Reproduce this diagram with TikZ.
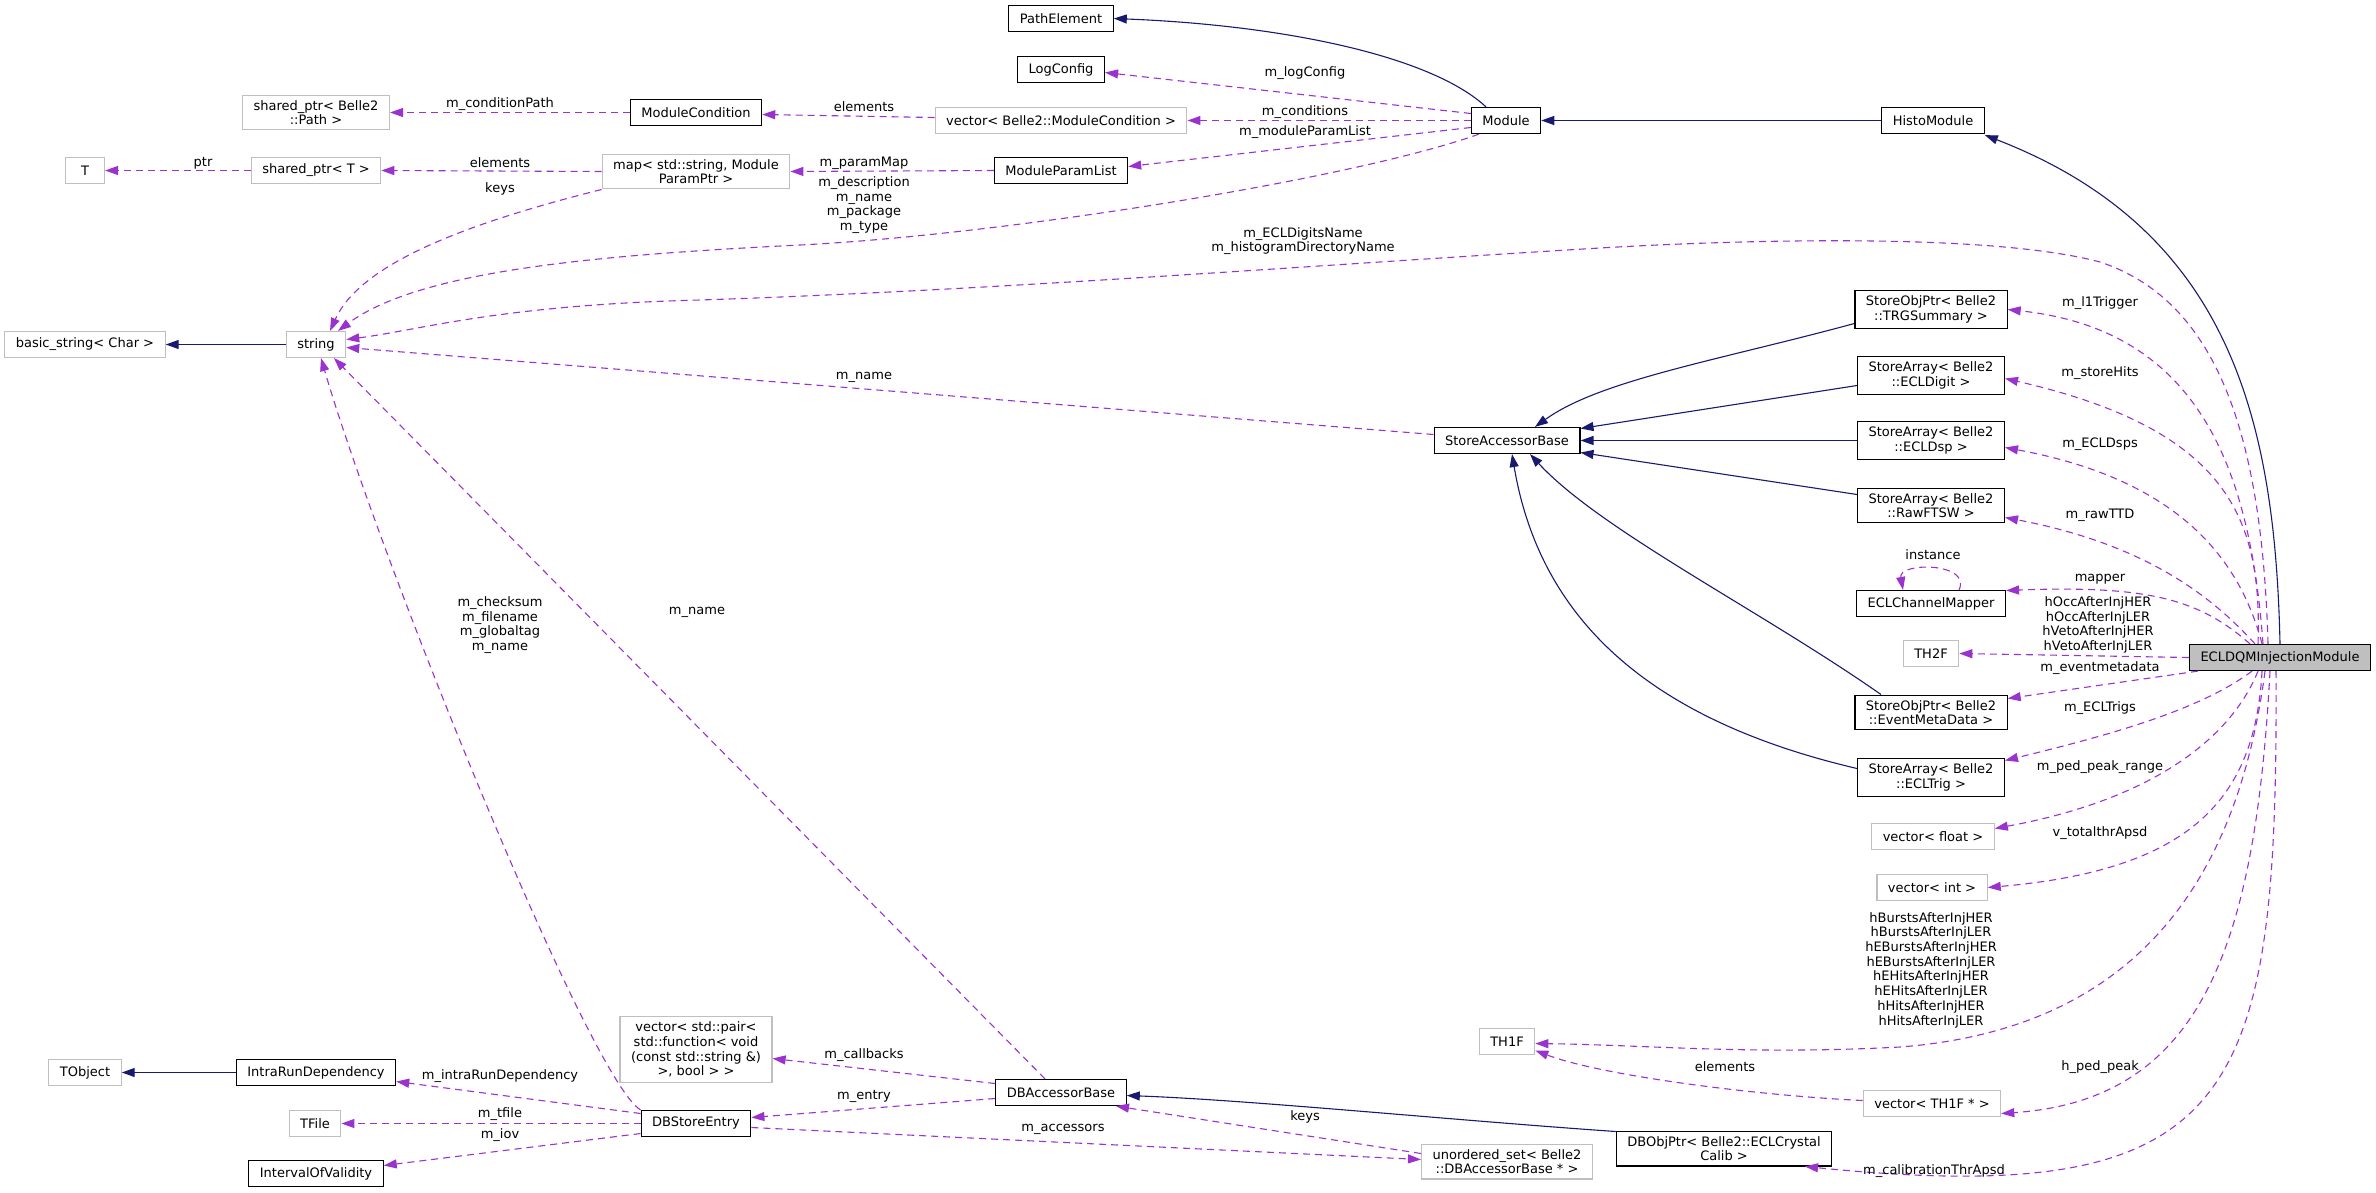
\documentclass[tikz,border=0pt]{standalone}
\usepackage{fontspec}
\setmainfont{DejaVu Sans}
\usetikzlibrary{arrows.meta}

\definecolor{edgeblue}{HTML}{191970}
\definecolor{edgepurple}{HTML}{9A32CD}
\definecolor{boxgray}{HTML}{BFBFBF}

\tikzset{
  cls/.style={draw=black, fill=white, line width=1.2pt, inner xsep=11pt, inner ysep=5pt,
    minimum height=26pt, minimum width=39pt, align=center, yshift=-0.5pt,
    font=\fontsize{13}{14.7}\selectfont},
  ext/.style={cls, draw=boxgray},
  mainbox/.style={cls, fill=boxgray},
  lbl/.style={inner sep=0pt, align=center, font=\fontsize{13}{14.7}\selectfont},
  inherit/.style={color=edgeblue, line width=1.1pt, -{Triangle[length=13pt,width=9pt]}},
  member/.style={color=edgepurple, line width=1.1pt, dash pattern=on 7pt off 5pt,
    -{Triangle[length=13pt,width=9pt]}},
}

\begin{document}
\begin{tikzpicture}[x=1pt, y=-1pt]
\useasboundingbox (0,0) rectangle (2376,1192);

% classes
\node (pathel) at (1061,18) [cls] {PathElement};
\node (logcfg) at (1061,69) [cls] {LogConfig};
\node (vecmc) at (1061,120) [ext] {vector< Belle2::ModuleCondition >};
\node (mpl) at (1061,170) [cls] {ModuleParamList};
\node (module) at (1506,120) [cls] {Module};
\node (histo) at (1933,120) [cls] {HistoModule};
\node (modcond) at (696,112) [cls] {ModuleCondition};
\node (spath) at (316,112) [ext] {shared\_ptr< Belle2\\::Path >};
\node (tcls) at (85,170) [ext] {T};
\node (sptr) at (316,170) [ext] {shared\_ptr< T >};
\node (pmap) at (696,171) [ext] {map< std::string, Module\\ParamPtr >};
\node (bstr) at (85,344) [ext] {basic\_string< Char >};
\node (str) at (316,344) [ext] {string};

\node (trg) at (1931,309) [cls] {StoreObjPtr< Belle2\\::TRGSummary >};
\node (digit) at (1931,375) [cls] {StoreArray< Belle2\\::ECLDigit >};
\node (sab) at (1507,440) [cls] {StoreAccessorBase};
\node (dsp) at (1931,440) [cls] {StoreArray< Belle2\\::ECLDsp >};
\node (raw) at (1931,505) [cls] {StoreArray< Belle2\\::RawFTSW >};
\node (mapper) at (1931,603) [cls] {ECLChannelMapper};
\node (thtwo) at (1931,653) [ext] {TH2F};
\node (ecl) at (2280,657) [mainbox] {ECLDQMInjectionModule};
\node (emd) at (1931,712) [cls] {StoreObjPtr< Belle2\\::EventMetaData >};
\node (etrig) at (1931,777) [cls] {StoreArray< Belle2\\::ECLTrig >};
\node (vflt) at (1933,836) [ext] {vector< float >};
\node (vint) at (1932,887) [ext] {vector< int >};
\node (thone) at (1507,1041) [ext] {TH1F};
\node (vth) at (1932,1103) [ext] {vector< TH1F * >};
\node (dbobj) at (1724,1148) [cls] {DBObjPtr< Belle2::ECLCrystal\\Calib >};

\node (dbacc) at (1061,1092) [cls] {DBAccessorBase};
\node (uset) at (1507,1161) [ext] {unordered\_set< Belle2\\::DBAccessorBase * >};
\node (vpair) at (696,1049) [ext] {vector< std::pair<\\ std::function< void\\(const std::string \&)\\>, bool > >};
\node (dbse) at (696,1123) [cls] {DBStoreEntry};
\node (intra) at (316,1072) [cls] {IntraRunDependency};
\node (tobj) at (85,1072) [ext] {TObject};
\node (tfile) at (315,1123) [ext] {TFile};
\node (iov) at (316,1173) [cls] {IntervalOfValidity};

% inheritance
\path[inherit]
    (histo.west) edge (module.east)
    (str.west) edge (bstr.east)
    (intra.west) edge (tobj.east)
    ([yshift=-10pt]digit.west) edge ([yshift=12pt]sab.east)
    (dsp.west) edge (sab.east)
    ([yshift=11pt]raw.west) edge ([yshift=-12pt]sab.east);
\draw[inherit] ([xshift=-20pt]module.north) .. controls (1430,55) and (1280,25) .. (pathel.east);
\draw[inherit] (ecl.north) .. controls (2275,420) and (2230,230) .. ([yshift=-1pt]histo.south east);
\draw[inherit] ([yshift=-14pt]trg.west) .. controls (1720,360) and (1600,380) .. ([xshift=28pt]sab.north);
\draw[inherit] ([xshift=-50pt]emd.north) .. controls (1760,610) and (1600,530) .. ([xshift=23pt]sab.south);
\draw[inherit] ([yshift=9pt]etrig.west) .. controls (1650,720) and (1540,620) .. ([xshift=5pt]sab.south);
\draw[inherit] ([yshift=17pt]dbobj.west) .. controls (1450,1120) and (1250,1100) .. ([yshift=-3pt]dbacc.east);

% members
\path[member]
    (modcond.west) edge (spath.east)
    ([yshift=3pt]vecmc.west) edge ([yshift=-2pt]modcond.east)
    ([yshift=7pt]module.west) edge ([yshift=-3pt]logcfg.east)
    (module.west) edge (vecmc.east)
    ([yshift=-7pt]module.west) edge ([yshift=4pt]mpl.east)
    (mpl.west) edge (pmap.east)
    (pmap.west) edge (sptr.east)
    (sptr.west) edge (tcls.east)
    ([yshift=6pt]sab.west) edge ([yshift=-3pt]str.east)
    ([xshift=-16pt]dbacc.north) edge ([xshift=18pt]str.south)
    ([yshift=10pt]dbse.west) edge ([yshift=-9pt]intra.east)
    (dbse.west) edge (tfile.east)
    ([yshift=-10pt]dbse.west) edge ([yshift=8pt]iov.east)
    ([yshift=9pt]dbacc.west) edge ([yshift=-9pt]vpair.east)
    ([yshift=-6pt]dbacc.west) edge ([yshift=6pt]dbse.east)
    ([yshift=-4pt]dbse.east) edge ([yshift=2pt]uset.west)
    ([yshift=8pt]uset.west) edge ([xshift=55pt]dbacc.south)
    (ecl.west) edge (thtwo.east)
    ([xshift=9pt]ecl.south west) edge ([yshift=14pt]emd.east);
\draw[member] ([xshift=-27pt]module.south) .. controls (1350,180) and (1000,235) .. (800,245)
    .. controls (600,255) and (420,270) .. ([xshift=22pt]str.north);
\draw[member] (pmap.south west) .. controls (460,225) and (360,265) .. ([xshift=14pt]str.north);
\draw[member] ([xshift=-12pt]ecl.north) .. controls (2262,430) and (2215,300) .. (2100,262)
    .. controls (1980,230) and (1700,242) .. (1600,248)
    .. controls (1300,266) and (1000,290) .. (700,300)
    .. controls (500,305) and (420,330) .. ([yshift=5pt]str.east);
\draw[member] (dbse.north west) .. controls (590,1080) and (380,560) .. ([xshift=5pt]str.south);
\draw[member] ([xshift=-17pt]ecl.north) .. controls (2250,470) and (2200,330) .. (trg.east);
\draw[member] ([xshift=-22pt]ecl.north) .. controls (2262,520) and (2230,430) .. ([yshift=-3pt]digit.east);
\draw[member] ([xshift=-18pt]ecl.north) .. controls (2240,560) and (2180,480) .. ([yshift=-7pt]dsp.east);
\draw[member] ([xshift=-25pt]ecl.north) .. controls (2215,600) and (2150,545) .. ([yshift=-12pt]raw.east);
\draw[member] ([xshift=-30pt]ecl.north) .. controls (2200,600) and (2150,585) .. ([yshift=13pt]mapper.east);
\draw[member] ([xshift=28pt]mapper.north) .. controls (1972,562) and (1898,562) .. ([xshift=-28pt]mapper.north);
\draw[member] ([xshift=-28pt]ecl.south) .. controls (2200,710) and (2110,735) .. ([yshift=17pt]etrig.east);
\draw[member] ([xshift=-22pt]ecl.south) .. controls (2230,740) and (2150,800) .. ([yshift=8pt]vflt.east);
\draw[member] ([xshift=-18pt]ecl.south) .. controls (2255,800) and (2190,870) .. (vint.east);
\draw[member] ([xshift=-15pt]ecl.south) .. controls (2235,900) and (2120,1030) .. (1900,1047)
    .. controls (1750,1055) and (1650,1045) .. ([yshift=-2pt]thone.east);
\draw[member] ([yshift=3pt]vth.west) .. controls (1750,1095) and (1600,1075) .. ([yshift=-9pt]thone.east);
\draw[member] ([xshift=-10pt]ecl.south) .. controls (2255,950) and (2200,1100) .. ([yshift=-10pt]vth.east);
\draw[member] ([xshift=-4pt]ecl.south) .. controls (2278,1100) and (2240,1210) .. ([xshift=81pt]dbobj.south);

% labels
\node (lcondpath) at (500,104) [lbl] {m\_conditionPath};
\node (lelemmc) at (864,107) [lbl] {elements};
\node (llogcfg) at (1305,73) [lbl] {m\_logConfig};
\node (lconds) at (1305,112) [lbl] {m\_conditions};
\node (lmpl) at (1305,132) [lbl] {m\_moduleParamList};
\node (lelemsp) at (500,163) [lbl] {elements};
\node (lptr) at (203,163) [lbl] {ptr};
\node (lparammap) at (864,163) [lbl] {m\_paramMap};
\node (lkeysmap) at (500,189) [lbl] {keys};
\node (ldescr) at (864,205) [lbl] {m\_description\\m\_name\\m\_package\\m\_type};
\node (ldigname) at (1303,241) [lbl] {m\_ECLDigitsName\\m\_histogramDirectoryName};
\node (ltrig) at (2100,303) [lbl] {m\_l1Trigger};
\node (lhits) at (2100,373) [lbl] {m\_storeHits};
\node (lsabname) at (864,377) [lbl] {m\_name};
\node (ldsps) at (2100,444) [lbl] {m\_ECLDsps};
\node (lttd) at (2100,515) [lbl] {m\_rawTTD};
\node (linst) at (1933,555) [lbl] {instance};
\node (lmapper) at (2100,579) [lbl] {mapper};
\node (ldbname) at (697,612) [lbl] {m\_name};
\node (lchecksum) at (500,625) [lbl] {m\_checksum\\m\_filename\\m\_globaltag\\m\_name};
\node (lhocc) at (2098,625) [lbl] {hOccAfterInjHER\\hOccAfterInjLER\\hVetoAfterInjHER\\hVetoAfterInjLER};
\node (levtmeta) at (2100,668) [lbl] {m\_eventmetadata};
\node (ltrigs) at (2100,708) [lbl] {m\_ECLTrigs};
\node (lpedrange) at (2100,767) [lbl] {m\_ped\_peak\_range};
\node (lthr) at (2100,833) [lbl] {v\_totalthrApsd};
\node (lbursts) at (1931,970) [lbl] {hBurstsAfterInjHER\\hBurstsAfterInjLER\\hEBurstsAfterInjHER\\hEBurstsAfterInjLER\\hEHitsAfterInjHER\\hEHitsAfterInjLER\\hHitsAfterInjHER\\hHitsAfterInjLER};
\node (lcallbacks) at (864,1055) [lbl] {m\_callbacks};
\node (lelemth) at (1725,1067) [lbl] {elements};
\node (lpedpeak) at (2100,1067) [lbl] {h\_ped\_peak};
\node (lintra) at (500,1076) [lbl] {m\_intraRunDependency};
\node (lentry) at (864,1096) [lbl] {m\_entry};
\node (ltfile) at (500,1114) [lbl] {m\_tfile};
\node (lkeysset) at (1305,1117) [lbl] {keys};
\node (laccess) at (1063,1129) [lbl] {m\_accessors};
\node (liov) at (500,1135) [lbl] {m\_iov};
\node (lcalib) at (1934,1171) [lbl] {m\_calibrationThrApsd};
\end{tikzpicture}
\end{document}
